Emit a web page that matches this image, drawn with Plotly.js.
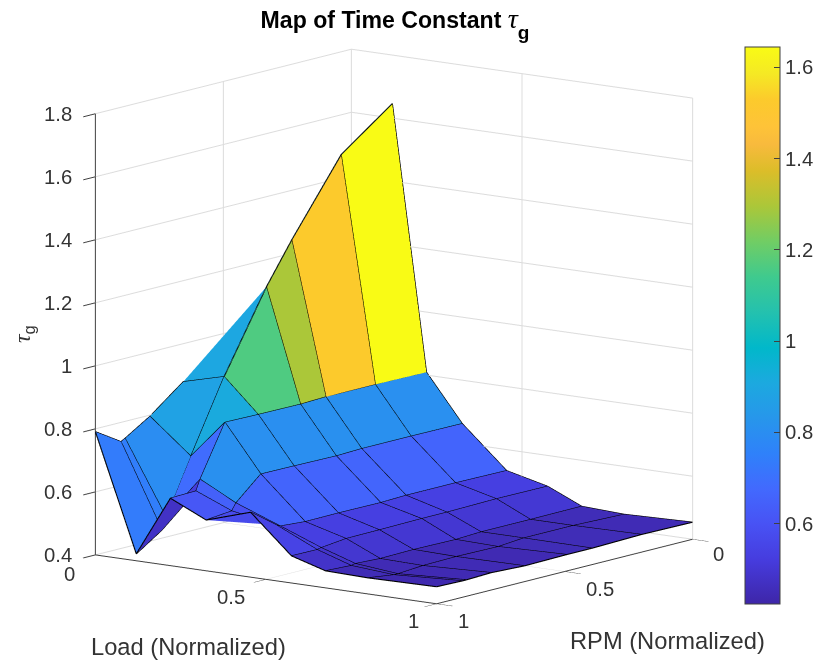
<!DOCTYPE html>
<html><head><meta charset="utf-8">
<script src="https://cdn.plot.ly/plotly-3.0.1.min.js"></script>
<style>html,body{margin:0;padding:0;background:#fff}#c{width:819px;height:662px}</style>
</head><body><div id="c"></div>
<script>
const loads = [0,0.12,0.22,0.325,0.455,0.575,0.675,0.80,1];
const rpms  = [0,0.20,0.393,0.492,0.657,0.787,0.884,0.90,1];
const tauR0 = [0.90,1.646,0.809,0.662,0.533,0.502,0.454,0.448,0.454];
const tauR1 = [0.90,1.525,0.811,0.663,0.535,0.503,0.453,0.453,0.456];
const tauR2 = [0.929,1.294,0.811,0.663,0.535,0.500,0.453,0.453,0.452];
const tauR3 = [0.90,1.165,0.808,0.660,0.532,0.500,0.449,0.446,0.452];
const tauR4 = [0.879,0.914,0.809,0.662,0.533,0.498,0.451,0.448,0.450];
const tauR5 = [0.796,0.688,0.811,0.663,0.532,0.497,0.449,0.446,0.455];
const tauR6 = [0.746,0.515,0.650,0.591,0.538,0.488,0.453,0.440,0.452];
const tauR7 = [0.739,0.477,0.616,0.569,0.545,0.485,0.450,0.440,0.452];
const tauR8 = [0.791,0.422,0.614,0.561,0.606,0.486,0.454,0.451,0.454];
const tau = [tauR0,tauR1,tauR2,tauR3,tauR4,tauR5,tauR6,tauR7,tauR8];
const zTicks = [0.4,0.6,0.8,1,1.2,1.4,1.6,1.8];
const xyTicks = [0,0.5,1];
const cTicks = [0.6,0.8,1,1.2,1.4,1.6];
const parula = [[0,'#3e26a8'],[0.079,'#463cde'],[0.143,'#4852f4'],[0.206,'#4269fe'],[0.27,'#2f81fa'],[0.333,'#2796eb'],[0.397,'#1ca9df'],[0.46,'#01b8ca'],[0.524,'#24c1ae'],[0.587,'#3fca8e'],[0.651,'#71cd64'],[0.714,'#abc739'],[0.778,'#dcbd29'],[0.825,'#f8ba3d'],[0.857,'#fec338'],[0.905,'#fcca2c'],[0.952,'#f5e924'],[1,'#f9fb15']];
const FONT='Liberation Sans, Arial';
const TXT='#333333';

const nR = rpms.length, nL = loads.length;
const X=[],Y=[],Z=[],I=[],J=[],K=[],C=[];
const id=(r,l)=>r*nL+l;
for(let r=0;r<nR;r++)for(let l=0;l<nL;l++){X.push(loads[l]);Y.push(rpms[r]);Z.push(tau[r][l]);}
for(let r=0;r<nR-1;r++)for(let l=0;l<nL-1;l++){
  I.push(id(r,l),id(r,l+1));J.push(id(r,l+1),id(r+1,l+1));K.push(id(r+1,l),id(r+1,l));
  C.push(tau[r][l],tau[r][l]);
}
const eX=[],eY=[],eZ=[];
for(let r=0;r<nR;r++){for(let l=0;l<nL;l++){eX.push(loads[l]);eY.push(rpms[r]);eZ.push(tau[r][l]);}eX.push(null);eY.push(null);eZ.push(null);}
for(let l=0;l<nL;l++){for(let r=0;r<nR;r++){eX.push(loads[l]);eY.push(rpms[r]);eZ.push(tau[r][l]);}eX.push(null);eY.push(null);eZ.push(null);}

const axisCommon = {showbackground:false,showgrid:true,gridcolor:'#dcdcdc',gridwidth:2,zeroline:false,showline:true,linecolor:'#404040',linewidth:2,ticks:'outside',ticklen:20,tickwidth:2,tickcolor:'#404040',showticklabels:false,showspikes:false,title:{text:''}};
const D=2;
const G=1.315;
const traces=[{type:'mesh3d',x:X,y:Y,z:Z,i:I,j:J,k:K,intensity:C,intensitymode:'cell',colorscale:parula,cmin:0.424,cmax:1.644,flatshading:true,
  lighting:{ambient:1,diffuse:0,specular:0,fresnel:0,roughness:1},hoverinfo:'skip',
  colorbar:{x:745/819,xanchor:'left',xpad:0,ypad:0,thickness:35,thicknessmode:'pixels',lenmode:'pixels',len:557,y:58/662,yanchor:'bottom',tickvals:cTicks,ticktext:cTicks.map(String),ticks:'inside',ticklen:6,tickcolor:'#404040',outlinecolor:'#404040',outlinewidth:1,tickfont:{family:FONT,size:20.3,color:TXT}}},
 {type:'scatter3d',mode:'lines',x:eX,y:eY,z:eZ,line:{color:'#000',width:2.2},hoverinfo:'skip',showlegend:false}];
const tickAnn=(x,y,z,text,xs,ys,anchor)=>({x,y,z,text:String(text),showarrow:false,xshift:xs,yshift:ys,xanchor:anchor||'center',yanchor:'middle',font:{family:FONT,size:20.3,color:TXT}});
const sceneAnn=[
  ...zTicks.map(v=>tickAnn(0,1,v,v,-21,0,'right')),
  tickAnn(0,1,0.4,'0',-26,-19),tickAnn(0.5,1,0.4,'0.5',-35,-18),tickAnn(1,1,0.4,'1',-23,-17),
  tickAnn(1,1,0.4,'1',27,-17),tickAnn(1,0.5,0.4,'0.5',35,-17),tickAnn(1,0,0.4,'0',26,-15)
];
const layout={width:819,height:662,paper_bgcolor:'#fff',margin:{l:0,r:0,t:0,b:0,autoexpand:false},showlegend:false,
 title:{text:'<b>Map of Time Constant </b><span style="font-family:Liberation Serif;font-size:28px"><i>τ</i></span><b><sub><sub><sub><span style="font-size:19px">g</span></sub></sub></sub></b>',x:395/819,xanchor:'center',y:1-20/662,yanchor:'middle',font:{family:FONT,size:23.1,color:'#000'}},
 scene:{domain:{x:[0,0.9621],y:[0.0136,1]},aspectmode:'manual',aspectratio:{x:G*428/430,y:G*426/430,z:G*450/430},
  camera:{projection:{type:'orthographic'},eye:{x:0.591*D,y:-0.784*D,z:0.19*D},up:{x:0,y:0,z:1},center:{x:0,y:0,z:0}},
  annotations:sceneAnn,
  xaxis:{...axisCommon,range:[0,1],tickvals:xyTicks},yaxis:{...axisCommon,range:[1,0],tickvals:xyTicks},zaxis:{...axisCommon,range:[0.4,1.8],tickvals:zTicks}},
 annotations:[
  {xref:'paper',yref:'paper',x:188/819,y:1-647/662,xanchor:'center',yanchor:'middle',text:'Load (Normalized)',showarrow:false,font:{family:FONT,size:23.7,color:TXT}},
  {xref:'paper',yref:'paper',x:667/819,y:1-641/662,xanchor:'center',yanchor:'middle',text:'RPM (Normalized)',showarrow:false,font:{family:FONT,size:23.7,color:TXT}},
  {xref:'paper',yref:'paper',x:24/819,y:1-334/662,xanchor:'center',yanchor:'middle',text:'<span style="font-family:Liberation Serif"><i>τ</i></span><sub>g</sub>',textangle:-90,showarrow:false,font:{family:FONT,size:23.7,color:TXT}}
 ]};
Plotly.newPlot('c',traces,layout,{displayModeBar:false});
</script></body></html>
